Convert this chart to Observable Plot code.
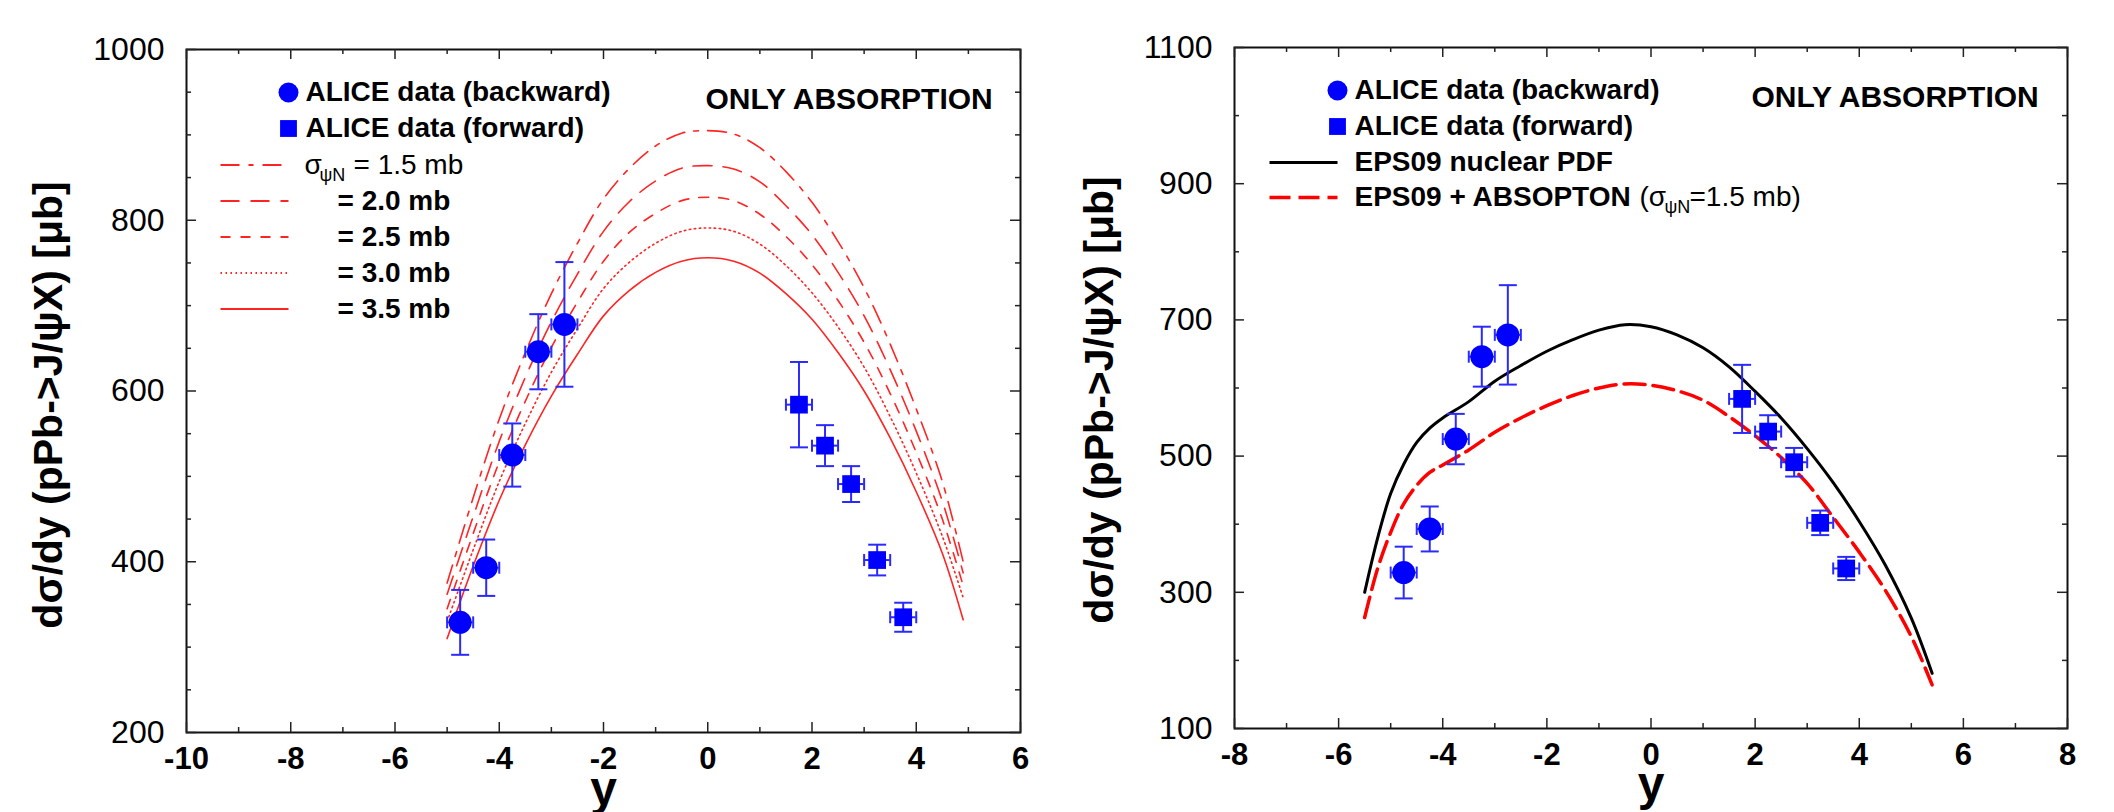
<!DOCTYPE html>
<html><head><meta charset="utf-8">
<script src="https://cdn.jsdelivr.net/npm/d3@7"></script>
<script src="https://cdn.jsdelivr.net/npm/@observablehq/plot@0.6"></script>
<style>
html,body{margin:0;padding:0;background:#fff;overflow:hidden}
#wrap{display:flex;width:2114px;height:812px}
#wrap svg{max-width:none;flex:none}
</style></head><body><div id="wrap"></div>
<script>
// ---------- data ----------
const backwardRap = [-4.75, -4.25, -3.75, -3.25, -2.75];
const backwardSigma = [329, 393, 525, 646, 678];
const backwardErr = [38, 33, 37, 44, 73];
const forwardRap = [1.75, 2.25, 2.75, 3.25, 3.75];
const forwardSigma = [584, 536, 491, 402, 335];
const forwardErr = [50, 24, 21, 18, 17];
const rapErr = 0.25;

// left panel: only absorption, sigma_psiN = 1.5 ... 3.5 mb
const absRap = [-5, -4.5, -4, -3.5, -3, -2.5, -2, -1.5, -1, -0.5, 0, 0.5, 1, 1.5, 2, 2.5, 3, 3.5, 4, 4.5, 4.9];
const abs15 = [375, 475, 567, 645, 714, 773, 825, 861, 887, 902, 905, 901, 885, 857, 821, 775, 721, 655, 579, 494, 400];
const abs20 = [362, 453, 541, 616, 681, 737, 787, 822, 846, 861, 864, 860, 845, 817, 783, 739, 688, 625, 553, 471, 387];
const abs25 = [345, 433, 517, 588, 651, 704, 752, 786, 808, 823, 827, 823, 807, 781, 748, 706, 657, 597, 528, 450, 372];
const abs30 = [330, 414, 494, 562, 622, 673, 720, 751, 773, 787, 791, 787, 772, 747, 715, 675, 628, 570, 504, 430, 358];
const abs35 = [310, 395, 472, 537, 594, 643, 688, 718, 739, 752, 756, 752, 738, 714, 684, 645, 600, 545, 482, 410, 332];
const absLabels = ["= 1.5 mb", "= 2.0 mb", "= 2.5 mb", "= 3.0 mb", "= 3.5 mb"];

// right panel: EPS09 and EPS09 + absorption
const epsRap = [-5.5, -5.25, -5, -4.75, -4.5, -4.25, -4, -3.5, -3, -2.5, -2, -1.5, -1, -0.5, 0, 0.5, 1, 1.5, 2, 2.5, 3, 3.5, 4, 4.5, 5, 5.4];
const eps09 = [300, 380, 445, 488, 520, 541, 556, 580, 610, 633, 654, 671, 685, 693, 690, 678, 659, 631, 595, 556, 511, 461, 404, 340, 262, 181];
const eps09Abs = [263, 335, 388, 430, 457, 476, 487, 509, 535, 556, 574, 589, 600, 606, 604, 596, 582, 558, 530, 498, 460, 410, 359, 303, 235, 164];

// ticks
const leftXTicks = [-10, -8, -6, -4, -2, 0, 2, 4, 6];
const leftXMinor = [-9, -7, -5, -3, -1, 1, 3, 5];
const leftYTicks = [200, 400, 600, 800, 1000];
const leftYMinor = [250, 300, 350, 450, 500, 550, 650, 700, 750, 850, 900, 950];
const rightXTicks = [-8, -6, -4, -2, 0, 2, 4, 6, 8];
const rightXMinor = [-7, -5, -3, -1, 1, 3, 5, 7];
const rightYTicks = [100, 300, 500, 700, 900, 1100];
const rightYMinor = [200, 400, 600, 800, 1000];

// ---------- styles ----------
const FONT = "'Liberation Sans', Arial, Helvetica, sans-serif";
const BLUE = "#0000ff";
const BAR = "#2a2aff";
const RED = "#ff2424";
const hbar = {draw(ctx, size) { const r = Math.sqrt(size / Math.PI); ctx.moveTo(-r, 0); ctx.lineTo(r, 0); }};
const vbar = {draw(ctx, size) { const r = Math.sqrt(size / Math.PI); ctx.moveTo(0, -r); ctx.lineTo(0, r); }};

const rows = (xs, ys, es) => xs.map((x, i) => ({x, y: ys[i], e: es ? es[i] : 0}));
const backward = rows(backwardRap, backwardSigma, backwardErr);
const forward = rows(forwardRap, forwardSigma, forwardErr);

function errorMarks(data) {
  const s = {stroke: BAR, strokeWidth: 2, fill: "none"};
  return [
    Plot.ruleX(data, {x: "x", y1: d => d.y - d.e, y2: d => d.y + d.e, ...s}),
    Plot.ruleY(data, {y: "y", x1: d => d.x - rapErr, x2: d => d.x + rapErr, ...s}),
    Plot.dot(data, {x: "x", y: d => d.y + d.e, symbol: hbar, r: 9, ...s}),
    Plot.dot(data, {x: "x", y: d => d.y - d.e, symbol: hbar, r: 9, ...s}),
    Plot.dot(data, {x: d => d.x - rapErr, y: "y", symbol: vbar, r: 6, ...s}),
    Plot.dot(data, {x: d => d.x + rapErr, y: "y", symbol: vbar, r: 6, ...s})
  ];
}
function dataMarks() {
  return [
    errorMarks(backward), errorMarks(forward),
    Plot.dot(backward, {x: "x", y: "y", r: 11.5, fill: BLUE}),
    Plot.dot(forward, {x: "x", y: "y", r: 10, symbol: "square", fill: BLUE})
  ];
}
function frameTicks(xMaj, xMin, yMaj, yMin, FW, FH) {
  const st = {stroke: "#222", strokeWidth: 1.5};
  return [
    Plot.tickX(xMaj, {insetTop: FH - 10, ...st}),
    Plot.tickX(xMaj, {insetBottom: FH - 10, ...st}),
    Plot.tickX(xMin, {insetTop: FH - 5, ...st}),
    Plot.tickX(xMin, {insetBottom: FH - 5, ...st}),
    Plot.tickY(yMaj, {insetRight: FW - 10, ...st}),
    Plot.tickY(yMaj, {insetLeft: FW - 10, ...st}),
    Plot.tickY(yMin, {insetRight: FW - 5, ...st}),
    Plot.tickY(yMin, {insetLeft: FW - 5, ...st})
  ];
}
function axes(xT, yT) {
  return [
    Plot.axisX(xT, {anchor: "bottom", tickSize: 0, tickPadding: 14, fontSize: 31, fontWeight: "bold", tickFormat: d => String(d), label: null}),
    Plot.axisY(yT, {anchor: "left", tickSize: 0, tickPadding: 22, fontSize: 32, tickFormat: d => String(d), label: null})
  ];
}
const lbl = (t, dx, dy, o = {}) => Plot.text([t], {frameAnchor: "top-left", dx, dy, textAnchor: "start", lineAnchor: "middle", fontSize: 28, fontWeight: "bold", fill: "#000", ...o});
const legLine = (dx, dy, stroke, width, dash) => Plot.dot([0], {frameAnchor: "top-left", dx, dy, symbol: hbar, r: 34, stroke, strokeWidth: width, strokeDasharray: dash, fill: "none"});
const legPoints = (dx) => [
  Plot.dot([0], {frameAnchor: "top-left", dx, dy: 43, r: 10, fill: BLUE}),
  Plot.dot([0], {frameAnchor: "top-left", dx, dy: 79, r: 9.5, symbol: "square", fill: BLUE})
];
const yTitle = "dσ/dy (pPb->J/ψX) [μb]";

// ---------- left panel ----------
const L = {w: 1057, h: 812, ml: 186, mr: 37, mt: 49, mb: 80};
const LFW = L.w - L.ml - L.mr, LFH = L.h - L.mt - L.mb;
const absSeries = [abs15, abs20, abs25, abs30, abs35];
const absDash = ["19,9,5,9", "19,11", "10,10", "1.5,3.5", undefined];
const leftPlot = Plot.plot({
  width: L.w, height: L.h, marginLeft: L.ml, marginRight: L.mr, marginTop: L.mt, marginBottom: L.mb,
  style: {fontFamily: FONT, background: "#fff", color: "#000", overflow: "visible"},
  x: {domain: [-10, 6]}, y: {domain: [200, 1000]},
  marks: [
    absSeries.map((v, k) => Plot.line(rows(absRap, v), {x: "x", y: "y", stroke: RED, strokeWidth: 1.6, strokeDasharray: absDash[k], curve: "catmull-rom"})),
    dataMarks(),
    Plot.frame({stroke: "#111", strokeWidth: 2}),
    frameTicks(leftXTicks, leftXMinor, leftYTicks, leftYMinor, LFW, LFH),
    axes(leftXTicks, leftYTicks),
    Plot.text([yTitle], {frameAnchor: "left", rotate: -90, dx: -125, dy: 14, textAnchor: "middle", lineAnchor: "bottom", fontSize: 41, fontWeight: "bold"}),
    Plot.text(["y"], {frameAnchor: "bottom", dy: 72, lineAnchor: "bottom", fontSize: 48, fontWeight: "bold"}),
    legPoints(102),
    lbl("ALICE data (backward)", 119, 43),
    lbl("ALICE data (forward)", 119, 79),
    absDash.map((d, k) => legLine(68, 115.5 + 36 * k, RED, 1.8, d)),
    lbl("σ", 118, 115.5, {fontWeight: "normal"}),
    lbl("ψN", 133, 126, {fontWeight: "normal", fontSize: 18}),
    lbl(absLabels[0], 167, 115.5, {fontWeight: "normal"}),
    absLabels.slice(1).map((t, k) => lbl(t, 151, 151.5 + 36 * k)),
    lbl("ONLY ABSORPTION", 519, 50, {fontSize: 30})
  ]
});

// ---------- right panel ----------
const R = {w: 1057, h: 812, ml: 177, mr: 47, mt: 47, mb: 84};
const RFW = R.w - R.ml - R.mr, RFH = R.h - R.mt - R.mb;
const rightPlot = Plot.plot({
  width: R.w, height: R.h, marginLeft: R.ml, marginRight: R.mr, marginTop: R.mt, marginBottom: R.mb,
  style: {fontFamily: FONT, background: "#fff", color: "#000", overflow: "visible"},
  x: {domain: [-8, 8]}, y: {domain: [100, 1100]},
  marks: [
    Plot.line(rows(epsRap, eps09), {x: "x", y: "y", stroke: "#000", strokeWidth: 3, curve: "catmull-rom"}),
    Plot.line(rows(epsRap, eps09Abs), {x: "x", y: "y", stroke: "#ff0000", strokeWidth: 3.5, strokeDasharray: "21,8", curve: "catmull-rom"}),
    dataMarks(),
    Plot.frame({stroke: "#111", strokeWidth: 2}),
    frameTicks(rightXTicks, rightXMinor, rightYTicks, rightYMinor, RFW, RFH),
    axes(rightXTicks, rightYTicks),
    Plot.text([yTitle], {frameAnchor: "left", rotate: -90, dx: -122, dy: 12, textAnchor: "middle", lineAnchor: "bottom", fontSize: 41, fontWeight: "bold"}),
    Plot.text(["y"], {frameAnchor: "bottom", dy: 71, lineAnchor: "bottom", fontSize: 48, fontWeight: "bold"}),
    legPoints(103),
    lbl("ALICE data (backward)", 120, 43),
    lbl("ALICE data (forward)", 120, 79),
    legLine(69, 115, "#000", 3, undefined),
    legLine(69, 150, "#ff0000", 3.5, "21,8"),
    lbl("EPS09 nuclear PDF", 120, 115),
    lbl("EPS09 + ABSOPTON", 120, 150),
    lbl("(σ", 405, 150, {fontWeight: "normal"}),
    lbl("ψN", 430, 160, {fontWeight: "normal", fontSize: 18}),
    lbl("=1.5 mb)", 455, 150, {fontWeight: "normal"}),
    lbl("ONLY ABSORPTION", 517, 50, {fontSize: 30})
  ]
});

document.getElementById("wrap").append(leftPlot, rightPlot);
</script>
</body></html>
